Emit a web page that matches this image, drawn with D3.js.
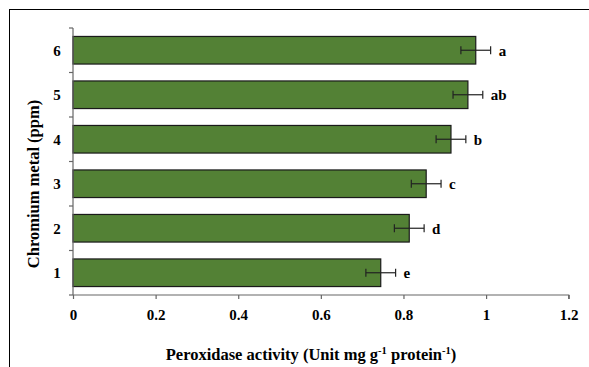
<!DOCTYPE html>
<html><head><meta charset="utf-8">
<script src="https://cdn.jsdelivr.net/npm/d3@7"></script>
<style>body{margin:0;background:#fff}svg{display:block}</style>
</head><body><svg id="c" width="589" height="367"></svg>
<script>
const categories = ["1","2","3","4","5","6"];
const values = [0.745, 0.814, 0.855, 0.915, 0.956, 0.975];
const errors = [0.036, 0.036, 0.036, 0.036, 0.036, 0.036];
const letters = ["e","d","c","b","ab","a"];
const xTicks = [0, 0.2, 0.4, 0.6, 0.8, 1, 1.2];

const svg = d3.select("#c");
const font = "'Liberation Serif','Times New Roman',serif";
// outer frame (left + top visible)
svg.append("rect").attr("x",9.5).attr("y",9.5).attr("width",600).attr("height",400)
  .attr("fill","none").attr("stroke","#000").attr("stroke-width",1);

const x = d3.scaleLinear().domain([0,1.2]).range([73,568.7]);
const y = d3.scaleBand().domain(categories.slice().reverse()).range([28,295]).paddingInner(0.38).paddingOuter(0.19);
const yEdge = d3.scaleLinear().domain([0,6]).range([295,28]);

// bars
svg.selectAll("rect.bar").data(categories).join("rect").attr("class","bar")
  .attr("x",x(0)).attr("y",d=>y(d)).attr("height",y.bandwidth())
  .attr("width",(d,i)=>x(values[i])-x(0))
  .attr("fill","#538135").attr("stroke","#1a1a1a").attr("stroke-width",1.2);

// error bars
const eg = svg.append("g").attr("stroke","#222").attr("stroke-width",1.2);
categories.forEach((c,i)=>{
  const cy = y(c)+y.bandwidth()/2;
  const x1 = x(values[i]-errors[i]), x2 = x(values[i]+errors[i]);
  eg.append("line").attr("x1",x1).attr("x2",x2).attr("y1",cy).attr("y2",cy);
  eg.append("line").attr("x1",x1).attr("x2",x1).attr("y1",cy-4).attr("y2",cy+4);
  eg.append("line").attr("x1",x2).attr("x2",x2).attr("y1",cy-4).attr("y2",cy+4);
  svg.append("text").attr("x",x2+8).attr("y",cy).attr("dy","0.35em")
    .attr("font-family",font).attr("font-weight","bold").attr("font-size",15).text(letters[i]);
});

// x axis
const xa = svg.append("g").attr("transform","translate(0,295)")
  .call(d3.axisBottom(x).tickValues(xTicks).tickSize(4).tickPadding(10).tickFormat(d=>String(d)));
xa.selectAll("path,line").attr("stroke","#666").attr("stroke-width",1.2);
xa.select("path.domain").attr("d","M73,0H568.7V4");
xa.selectAll("text").attr("font-family",font).attr("font-weight","bold").attr("font-size",15).attr("fill","#000");

// y axis
const ya = svg.append("g").attr("transform","translate(73,0)");
ya.append("line").attr("x1",0).attr("x2",0).attr("y1",28).attr("y2",295).attr("stroke","#666").attr("stroke-width",1.2);
d3.range(7).forEach(k=>{
  ya.append("line").attr("x1",-4).attr("x2",0).attr("y1",yEdge(k)).attr("y2",yEdge(k)).attr("stroke","#666").attr("stroke-width",1.2);
});
categories.forEach(c=>{
  ya.append("text").attr("x",-16).attr("y",y(c)+y.bandwidth()/2).attr("dy","0.35em").attr("text-anchor","middle")
    .attr("font-family",font).attr("font-weight","bold").attr("font-size",15).text(c);
});

// axis titles
const xt = svg.append("text").attr("x",311).attr("y",360).attr("text-anchor","middle")
  .attr("font-family",font).attr("font-weight","bold").attr("font-size",16.5);
xt.append("tspan").text("Peroxidase activity (Unit mg g");
xt.append("tspan").attr("dy",-6).attr("font-size",10.5).text("-1");
xt.append("tspan").attr("dy",6).text(" protein");
xt.append("tspan").attr("dy",-6).attr("font-size",10.5).text("-1");
xt.append("tspan").attr("dy",6).text(")");

svg.append("text").attr("transform","translate(39,184) rotate(-90)").attr("text-anchor","middle")
  .attr("font-family",font).attr("font-weight","bold").attr("font-size",16.5).text("Chromium metal (ppm)");
</script></body></html>
